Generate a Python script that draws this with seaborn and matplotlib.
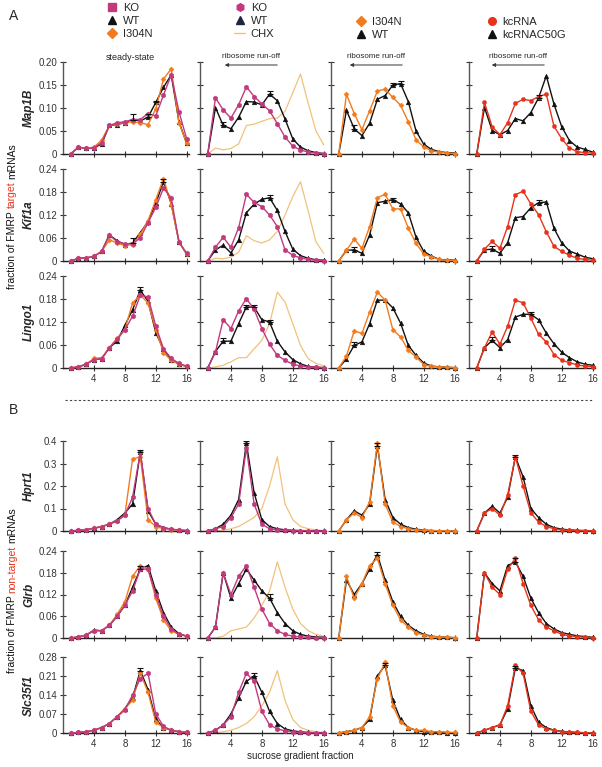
import matplotlib
matplotlib.use("Agg")
import matplotlib.pyplot as plt
from matplotlib.lines import Line2D
from matplotlib.patches import FancyArrowPatch
import seaborn as sns

frac = list(range(1, 17))

# ---- A : FMRP target mRNAs ----
map1b_ss = {
    "I304N": [0, .015, .012, .015, .030, .062, .066, .068, .070, .068, .064, .098, .163, .185, .068, .023],
    "WT":    [0, .015, .012, .013, .022, .062, .064, .068, .075, .072, .080, .112, .145, .172, .070, .023],
    "KO":    [0, .015, .012, .013, .025, .062, .068, .070, .075, .075, .088, .083, .128, .172, .092, .033],
}
map1b_ro = {
    "CHX": [0, .013, .009, .012, .022, .062, .065, .071, .077, .078, .093, .133, .174, .110, .050, .020],
    "WT":  [0, .101, .062, .055, .080, .114, .113, .107, .130, .116, .076, .033, .015, .007, .003, .001],
    "KO":  [0, .122, .096, .078, .107, .146, .125, .109, .094, .066, .037, .017, .009, .004, .002, .001],
}
map1b_mut = {
    "WT":    [0, .095, .055, .040, .067, .119, .127, .150, .153, .114, .050, .021, .010, .005, .003, .002],
    "I304N": [0, .130, .088, .053, .094, .137, .141, .123, .106, .070, .031, .015, .007, .004, .002, .001],
}
map1b_kc = {
    "kcRNAC50G": [0, .101, .051, .042, .051, .077, .072, .090, .122, .170, .108, .059, .029, .015, .010, .004],
    "kcRNA":     [0, .112, .059, .042, .068, .110, .119, .116, .125, .130, .060, .033, .013, .005, .003, .002],
}

kif1a_ss = {
    "I304N": [0, .007, .008, .012, .025, .055, .047, .040, .043, .070, .105, .160, .215, .147, .050, .018],
    "WT":    [0, .007, .008, .012, .025, .068, .053, .043, .047, .074, .103, .151, .207, .150, .050, .018],
    "KO":    [0, .007, .008, .012, .025, .068, .050, .045, .045, .060, .100, .140, .190, .165, .050, .020],
}
kif1a_ro = {
    "CHX": [0, .007, .006, .010, .023, .066, .053, .047, .055, .077, .120, .168, .207, .130, .050, .020],
    "WT":  [0, .029, .041, .021, .055, .126, .148, .161, .165, .132, .077, .031, .014, .007, .003, .002],
    "KO":  [0, .036, .062, .036, .087, .174, .153, .142, .120, .090, .029, .015, .008, .004, .002, .001],
}
kif1a_mut = {
    "WT":    [0, .028, .029, .020, .068, .152, .156, .160, .149, .126, .062, .025, .013, .004, .003, .002],
    "I304N": [0, .028, .057, .033, .090, .165, .174, .136, .136, .086, .046, .018, .011, .004, .002, .001],
}
kif1a_kc = {
    "kcRNAC50G": [0, .029, .031, .020, .048, .113, .116, .139, .152, .154, .085, .047, .026, .018, .010, .006],
    "kcRNA":     [0, .031, .051, .033, .090, .173, .182, .149, .121, .076, .038, .025, .015, .007, .004, .002],
}

lingo1_ss = {
    "I304N": [0, .003, .010, .025, .027, .053, .078, .100, .170, .190, .170, .100, .040, .020, .010, .004],
    "WT":    [0, .003, .010, .022, .024, .053, .070, .111, .152, .203, .174, .092, .049, .022, .010, .004],
    "KO":    [0, .003, .010, .022, .024, .053, .075, .100, .135, .190, .185, .110, .050, .025, .012, .005],
}
lingo1_ro = {
    "CHX": [0, .003, .007, .016, .027, .027, .050, .072, .116, .198, .172, .116, .059, .024, .012, .006],
    "WT":  [0, .043, .070, .070, .116, .159, .159, .126, .120, .070, .042, .022, .011, .004, .002, .001],
    "KO":  [0, .042, .126, .103, .149, .181, .153, .103, .062, .033, .020, .010, .005, .003, .002, .001],
}
lingo1_mut = {
    "WT":    [0, .024, .059, .068, .116, .177, .177, .157, .117, .059, .033, .013, .005, .003, .002, .001],
    "I304N": [0, .031, .097, .090, .146, .198, .177, .100, .081, .046, .029, .009, .004, .003, .002, .001],
}
lingo1_kc = {
    "kcRNAC50G": [0, .053, .072, .053, .074, .133, .140, .140, .126, .091, .063, .041, .027, .016, .010, .007],
    "kcRNA":     [0, .053, .094, .062, .109, .177, .170, .130, .088, .068, .035, .020, .014, .008, .005, .003],
}

# ---- B : non-target mRNAs ----
hprt1_ss = {
    "I304N": [0, .003, .006, .012, .020, .030, .045, .070, .320, .330, .050, .020, .010, .006, .003, .002],
    "WT":    [0, .003, .006, .012, .020, .030, .050, .080, .120, .350, .090, .030, .015, .008, .004, .002],
    "KO":    [0, .003, .006, .012, .020, .030, .045, .070, .150, .350, .100, .030, .015, .008, .004, .002],
}
hprt1_ro = {
    "CHX": [0, 0, .003, .010, .020, .040, .060, .100, .200, .330, .120, .050, .020, .010, .005, .002],
    "WT":  [0, .010, .030, .070, .140, .390, .170, .050, .020, .010, .005, .003, .002, .001, .001, 0],
    "KO":  [0, .010, .020, .060, .120, .370, .120, .030, .010, .005, .003, .002, .001, .001, 0, 0],
}
hprt1_mut = {
    "WT":    [0, .050, .090, .070, .120, .380, .140, .060, .030, .015, .008, .004, .002, .001, .001, 0],
    "I304N": [0, .050, .080, .060, .130, .390, .120, .040, .020, .010, .005, .003, .002, .001, .001, 0],
}
hprt1_kc = {
    "kcRNAC50G": [0, .080, .110, .080, .150, .330, .240, .100, .060, .030, .015, .008, .005, .003, .002, .001],
    "kcRNA":     [0, .080, .100, .070, .160, .330, .200, .080, .040, .020, .010, .005, .003, .002, .001, .001],
}

glrb_ss = {
    "I304N": [0, .003, .008, .020, .020, .035, .065, .100, .170, .200, .190, .110, .050, .020, .010, .005],
    "WT":    [0, .003, .008, .022, .020, .035, .060, .090, .140, .190, .200, .130, .070, .030, .012, .005],
    "KO":    [0, .003, .008, .020, .020, .035, .060, .090, .130, .190, .190, .120, .060, .025, .010, .005],
}
glrb_ro = {
    "CHX": [0, 0, .005, .020, .025, .030, .055, .090, .130, .210, .140, .080, .040, .020, .010, .005],
    "WT":  [0, .030, .180, .110, .150, .190, .160, .130, .110, .070, .040, .020, .010, .005, .003, .002],
    "KO":  [0, .030, .180, .120, .170, .200, .140, .080, .040, .020, .010, .005, .003, .002, .001, .001],
}
glrb_mut = {
    "WT":    [0, .160, .120, .150, .190, .230, .160, .100, .060, .035, .020, .010, .005, .003, .002, .001],
    "I304N": [0, .170, .110, .150, .200, .220, .150, .090, .050, .030, .015, .008, .004, .003, .002, .001],
}
glrb_kc = {
    "kcRNAC50G": [0, .180, .150, .130, .200, .210, .170, .110, .070, .040, .025, .015, .010, .006, .004, .002],
    "kcRNA":     [0, .180, .140, .120, .190, .220, .150, .090, .050, .030, .020, .010, .006, .004, .002, .001],
}

slc35f1_ss = {
    "I304N": [0, .002, .005, .010, .020, .035, .060, .090, .120, .220, .150, .040, .020, .010, .005, .002],
    "WT":    [0, .002, .005, .010, .020, .035, .060, .090, .130, .230, .160, .050, .020, .010, .005, .002],
    "KO":    [0, .002, .005, .010, .020, .035, .060, .085, .140, .200, .220, .070, .025, .010, .005, .002],
}
slc35f1_ro = {
    "CHX": [0, 0, .005, .010, .020, .035, .060, .100, .150, .230, .120, .050, .020, .010, .005, .002],
    "WT":  [0, .010, .030, .070, .130, .190, .210, .150, .080, .035, .015, .008, .004, .002, .001, 0],
    "KO":  [0, .010, .030, .060, .150, .220, .190, .080, .030, .015, .008, .004, .002, .001, .001, 0],
}
slc35f1_mut = {
    "WT":    [0, .005, .010, .020, .050, .210, .250, .120, .050, .020, .010, .005, .003, .002, .001, 0],
    "I304N": [0, .005, .010, .020, .060, .200, .260, .100, .040, .020, .010, .010, .005, .005, .003, .002],
}
slc35f1_kc = {
    "kcRNAC50G": [0, .010, .020, .030, .090, .240, .230, .100, .040, .020, .010, .006, .004, .002, .001, 0],
    "kcRNA":     [0, .010, .020, .030, .100, .250, .220, .080, .030, .015, .010, .005, .003, .002, .001, 0],
}

# upward error bars on the WT / control traces  {fraction: sem}
wt_err = [
    [{9: .013, 11: .006, 12: .004}, {3: .008, 9: .006}, {3: .008, 8: .004, 9: .006}, {9: .007}],
    [{9: .013, 13: .008}, {9: .006}, {3: .007, 8: .004}, {3: .008, 9: .006}],
    [{10: .008}, {3: .008, 6: .005, 7: .005, 9: .005}, {3: .008}, {3: .009, 8: .005}],
    [{10: .012}, {6: .012}, {6: .010}, {6: .010}],
    [{10: .010}, {9: .012}, {6: .008}, {6: .010}],
    [{10: .010}, {7: .010}, {7: .008}, {6: .008}],
]

genes = ["Map1B", "Kif1a", "Lingo1", "Hprt1", "Glrb", "Slc35f1"]
panels = [
    [map1b_ss, map1b_ro, map1b_mut, map1b_kc],
    [kif1a_ss, kif1a_ro, kif1a_mut, kif1a_kc],
    [lingo1_ss, lingo1_ro, lingo1_mut, lingo1_kc],
    [hprt1_ss, hprt1_ro, hprt1_mut, hprt1_kc],
    [glrb_ss, glrb_ro, glrb_mut, glrb_kc],
    [slc35f1_ss, slc35f1_ro, slc35f1_mut, slc35f1_kc],
]
yticks = [
    [0, .05, .10, .15, .20],
    [0, .06, .12, .18, .24],
    [0, .06, .12, .18, .24],
    [0, .1, .2, .3, .4],
    [0, .06, .12, .18, .24],
    [0, .07, .14, .21, .28],
]
yticklabels = [
    ["0", "0.05", "0.10", "0.15", "0.20"],
    ["0", "0.06", "0.12", "0.18", "0.24"],
    ["0", "0.06", "0.12", "0.18", "0.24"],
    ["0", "0.1", "0.2", "0.3", "0.4"],
    ["0", "0.06", "0.12", "0.18", "0.24"],
    ["0", "0.07", "0.14", "0.21", "0.28"],
]

PINK = "#c23a7e"
ORANGE = "#f37b1d"
RED = "#e8331c"
CHXC = "#f1c27a"
BLACK = "#111111"
style = {
    "KO": dict(color=PINK, marker="h", markersize=3.6, lw=1.0, z=4),
    "WT": dict(color=BLACK, marker="^", markersize=3.4, lw=1.0, z=3),
    "I304N": dict(color=ORANGE, marker="D", markersize=2.6, lw=1.0, z=4),
    "CHX": dict(color=CHXC, marker=None, markersize=0, lw=0.9, z=2),
    "kcRNA": dict(color=RED, marker="o", markersize=3.0, lw=1.0, z=4),
    "kcRNAC50G": dict(color=BLACK, marker="^", markersize=3.4, lw=1.0, z=3),
}

sns.set_style("ticks")
plt.rcParams["font.family"] = ["Liberation Sans", "DejaVu Sans"]

W, H = 602, 767
fig = plt.figure(figsize=(W / 100, H / 100), dpi=100)


def px_axes(left, top, w, h):
    return fig.add_axes([left / W, 1 - (top + h) / H, w / W, h / H])


col_left = [63, 200, 331, 469]
col_w = 126
row_top = [62, 169, 276, 441, 551, 657]
row_h = [92, 92, 92, 90, 87, 76]

for r in range(6):
    for c in range(4):
        ax = px_axes(col_left[c], row_top[r], col_w, row_h[r])
        for name, vals in panels[r][c].items():
            st = style[name]
            sns.lineplot(x=frac, y=vals, ax=ax, color=st["color"], marker=st["marker"],
                         markersize=st["markersize"], markeredgewidth=0.3,
                         markeredgecolor=st["color"], linewidth=st["lw"], zorder=st["z"],
                         clip_on=False)
        wt_name = "kcRNAC50G" if c == 3 else "WT"
        wt_vals = panels[r][c][wt_name]
        for fx, e in wt_err[r][c].items():
            ax.errorbar([fx], [wt_vals[fx - 1]], yerr=[[0], [e]], fmt="none", ecolor=BLACK,
                        elinewidth=0.8, capsize=2, capthick=0.8, zorder=5)
        ax.set_xlim(0, 16.3)
        ax.set_ylim(0, yticks[r][-1])
        ax.set_xticks([4, 8, 12, 16])
        ax.set_yticks(yticks[r])
        if c == 0:
            ax.set_yticklabels(yticklabels[r])
        else:
            ax.set_yticklabels([])
        if r in (2, 5):
            ax.set_xticklabels(["4", "8", "12", "16"])
        else:
            ax.set_xticklabels([])
        ax.tick_params(axis="both", direction="inout", length=4, width=0.8,
                       labelsize=7, pad=2, colors="#333333")
        sns.despine(ax=ax)
        ax.spines["left"].set_color("#555555")
        ax.spines["bottom"].set_color("#222222")
        ax.spines["left"].set_linewidth(1.0)
        ax.spines["bottom"].set_linewidth(1.0)
        ax.set_xlabel("")
        ax.set_ylabel("")
        if c == 0:
            fig.text(29 / W, 1 - (row_top[r] + row_h[r] / 2) / H, genes[r], rotation=90,
                     ha="center", va="center", fontsize=8.5, fontweight="bold", style="italic")

# panel letters and section divider
fig.text(9 / W, 1 - 16 / H, "A", fontsize=10, va="center")
fig.text(9 / W, 1 - 410 / H, "B", fontsize=10, va="center")
fig.add_artist(Line2D([65 / W, 592 / W], [1 - 400 / H, 1 - 400 / H], color="#444444",
                      lw=0.8, ls=(0, (2, 2))))

# column headers
fig.text(130 / W, 1 - 58 / H, "steady-state", fontsize=6.5, ha="center", va="center")
for xc in [251, 376, 518]:
    fig.text(xc / W, 1 - 57 / H, "ribosome run-off", fontsize=5.8, ha="center", va="center")
    fig.add_artist(FancyArrowPatch(
        ((xc + 29) / W, 1 - 65 / H), ((xc - 29) / W, 1 - 65 / H),
        transform=fig.transFigure, arrowstyle="-|>", mutation_scale=5, lw=0.7, color="#333333"))


# legends
def legend_at(items, x, y):
    handles = []
    for lab, col, mk in items:
        if mk is None:
            handles.append(Line2D([], [], color=col, lw=1.0))
        else:
            handles.append(Line2D([], [], color=col, marker=mk, ls="none", markersize=5.5))
    fig.legend(handles, [i[0] for i in items], loc="upper left",
               bbox_to_anchor=(x / W, 1 - y / H), frameon=False, fontsize=8,
               handlelength=1.0, handletextpad=0.5, labelspacing=0.25, borderaxespad=0,
               borderpad=0)


legend_at([("KO", PINK, "s"), ("WT", BLACK, "^"), ("I304N", ORANGE, "D")], 106, 3)
legend_at([("KO", PINK, "h"), ("WT", "#1c2541", "^"), ("CHX", CHXC, None)], 234, 3)
legend_at([("I304N", ORANGE, "D"), ("WT", BLACK, "^")], 355, 17)
legend_at([("kcRNA", RED, "o"), ("kcRNAC50G", BLACK, "^")], 486, 17)

fig.text(300 / W, 1 - 756 / H, "sucrose gradient fraction", fontsize=7, ha="center", va="center")

# outer y labels with a coloured word (read bottom to top)
renderer = fig.canvas.get_renderer()


def multicolor_ylabel(parts, x, yc):
    texts = []
    for s, col in parts:
        t = fig.text(x / W, 0, s, rotation=90, ha="center", va="bottom", fontsize=7.5, color=col)
        texts.append(t)
    gap = 2.5
    sizes = [t.get_window_extent(renderer).height for t in texts]
    total = sum(sizes) + gap * (len(texts) - 1)
    y = yc + total / 2  # pixel row of the bottom end
    for t, h in zip(texts, sizes):
        t.set_position((x / W, 1 - y / H))
        y -= h + gap


multicolor_ylabel([("fraction of FMRP", BLACK), ("target", RED), ("mRNAs", BLACK)], 12, 216)
multicolor_ylabel([("fraction of FMRP", BLACK), ("non-target", RED), ("mRNAs", BLACK)], 12, 590)

fig.savefig("out.png", dpi=100)
